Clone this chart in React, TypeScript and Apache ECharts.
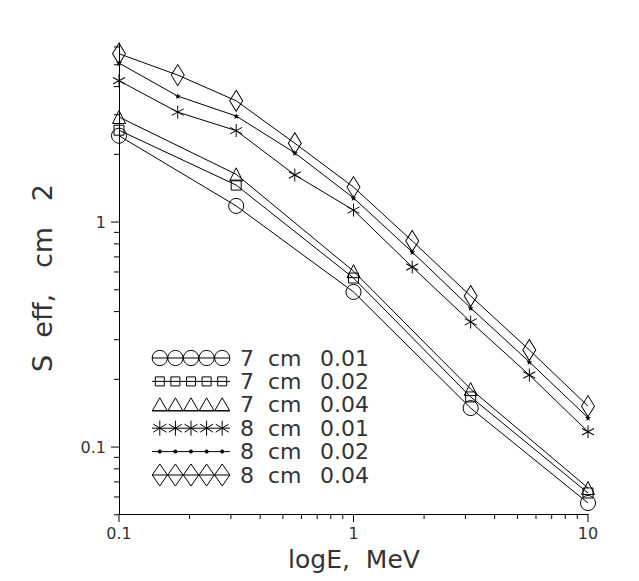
import React, { useEffect, useRef } from 'react';
import * as echarts from 'echarts';

// ---- data ----
const energies8 = [0.1, 0.178, 0.316, 0.562, 1, 1.78, 3.16, 5.62, 10];
const energies7 = [0.1, 0.316, 1, 3.16, 10];

const s7cm001 = [2.42, 1.18, 0.489, 0.149, 0.0564];
const s7cm002 = [2.56, 1.46, 0.564, 0.167, 0.0625];
const s7cm004 = [2.93, 1.63, 0.605, 0.181, 0.0658];
const s8cm001 = [4.25, 3.08, 2.55, 1.62, 1.13, 0.631, 0.36, 0.209, 0.117];
const s8cm002 = [5.09, 3.63, 2.96, 2.03, 1.28, 0.736, 0.415, 0.239, 0.135];
const s8cm004 = [5.6, 4.5, 3.46, 2.24, 1.43, 0.824, 0.469, 0.27, 0.152];

const diameters = ['7', '7', '7', '8', '8', '8'];
const thicknesses = ['0.01', '0.02', '0.04', '0.01', '0.02', '0.04'];

const xMajorTicks = [0.1, 1, 10];
const xMinorTicks = [0.2, 0.3, 0.4, 0.5, 0.6, 0.7, 0.8, 0.9, 2, 3, 4, 5, 6, 7, 8, 9];
const yMajorTicks = [0.1, 1];
const yMinorTicks = [0.05, 0.06, 0.07, 0.08, 0.09, 0.2, 0.3, 0.4, 0.5, 0.6, 0.7, 0.8, 0.9, 2, 3, 4, 5, 6];

const X_MIN = 0.1;
const X_MAX = 10;
const Y_MIN = 0.0504;
const Y_MAX = 6.25;

const xTitle = 'logE,  MeV';
const yTitle = 'S  eff,   cm   2';

const FONT = '"DejaVu Sans", "Liberation Sans", sans-serif';
const TEXT_COLOR = '#333';

const ASTERISK = 'path://M6 0L6 13M0 3.25L12 9.75M0 9.75L12 3.25';
const SMALL_STAR = 'path://M5 0L6.2 3.5L10 3.6L7 5.9L8.1 9.5L5 7.4L1.9 9.5L3 5.9L0 3.6L3.8 3.5Z';

function isPow10(v: number) {
  const l = Math.log10(v);
  return Math.abs(l - Math.round(l)) < 1e-6;
}
function fmt(v: number) {
  if (!isPow10(v)) return '';
  const e = Math.round(Math.log10(v));
  return e < 0 ? Math.pow(10, e).toFixed(-e) : String(Math.round(Math.pow(10, e)));
}

function legendGraphics() {
  const els: any[] = [];
  const top = 358;
  const step = 23.4;
  const x0 = 152;
  const x1 = 230;
  const kinds = ['circle', 'square', 'triangle', 'asterisk', 'dot', 'diamond'];
  const stroke = { fill: 'none', stroke: '#000', lineWidth: 1 };
  kinds.forEach((kind, i) => {
    const yc = top + i * step;
    const lineY = kind === 'triangle' ? yc + 6 : yc;
    els.push({ type: 'line', shape: { x1: x0, y1: lineY, x2: x1, y2: lineY }, style: { stroke: '#000', lineWidth: 1 }, silent: true });
    for (let k = 0; k < 5; k++) {
      const cx = x0 + 7.8 + k * 15.6;
      if (kind === 'circle') {
        els.push({ type: 'circle', shape: { cx, cy: yc, r: 7.6 }, style: stroke, silent: true });
      } else if (kind === 'square') {
        els.push({ type: 'rect', shape: { x: cx - 4.5, y: yc - 4.5, width: 9, height: 9 }, style: stroke, silent: true });
      } else if (kind === 'triangle') {
        els.push({ type: 'polygon', shape: { points: [[cx, yc - 7], [cx - 7.5, yc + 6], [cx + 7.5, yc + 6]] }, style: stroke, silent: true });
      } else if (kind === 'asterisk') {
        els.push({ type: 'line', shape: { x1: cx, y1: yc - 7.5, x2: cx, y2: yc + 7.5 }, style: { stroke: '#000', lineWidth: 1 }, silent: true });
        els.push({ type: 'line', shape: { x1: cx - 6.5, y1: yc - 4, x2: cx + 6.5, y2: yc + 4 }, style: { stroke: '#000', lineWidth: 1 }, silent: true });
        els.push({ type: 'line', shape: { x1: cx - 6.5, y1: yc + 4, x2: cx + 6.5, y2: yc - 4 }, style: { stroke: '#000', lineWidth: 1 }, silent: true });
      } else if (kind === 'dot') {
        els.push({ type: 'circle', shape: { cx, cy: yc, r: 2 }, style: { fill: '#000' }, silent: true });
      } else {
        els.push({ type: 'polygon', shape: { points: [[cx, yc - 11], [cx + 7.6, yc], [cx, yc + 11], [cx - 7.6, yc]] }, style: stroke, silent: true });
      }
    }
    const tstyle = { font: `22px ${FONT}`, fill: TEXT_COLOR, verticalAlign: 'middle', align: 'left' };
    els.push({ type: 'text', x: 240, y: yc, style: { ...tstyle, text: diameters[i] }, silent: true });
    els.push({ type: 'text', x: 268, y: yc, style: { ...tstyle, text: 'cm' }, silent: true });
    els.push({ type: 'text', x: 320, y: yc, style: { ...tstyle, text: thicknesses[i] }, silent: true });
  });
  return els;
}

export default function App() {
  const ref = useRef<HTMLDivElement>(null);
  useEffect(() => {
    document.body.style.margin = '0';
    if (!ref.current) return;
    const chart = echarts.init(ref.current, undefined, { renderer: 'svg' });

    const baseLine = (name: string, xs: number[], ys: number[], extra: any) => ({
      name,
      type: 'line',
      data: xs.map((x, i) => [x, ys[i]]),
      lineStyle: { color: '#000', width: 1 },
      itemStyle: { color: 'rgba(0,0,0,0)', borderColor: '#000', borderWidth: 1 },
      emphasis: { disabled: true },
      silent: true,
      z: 3,
      ...extra,
    });
    const names = diameters.map((d, i) => `${d} cm ${thicknesses[i]}`);

    const xTickData = [
      ...xMajorTicks.map((v) => [v, Y_MIN, 8]),
      ...xMinorTicks.map((v) => [v, Y_MIN, 5]),
    ];
    const yTickData = [
      ...yMajorTicks.map((v) => [X_MIN, v, 8]),
      ...yMinorTicks.map((v) => [X_MIN, v, 5]),
    ];

    const axisLabelBase = { fontSize: 16, fontFamily: FONT, color: TEXT_COLOR, formatter: (v: number) => fmt(v) };

    chart.setOption({
      animation: false,
      backgroundColor: '#fff',
      grid: { left: 119, right: 51, top: 43, bottom: 67, containLabel: false, outerBoundsMode: 'none' },
      xAxis: {
        type: 'log',
        logBase: 10,
        min: X_MIN,
        max: X_MAX,
        axisLine: { show: true, lineStyle: { color: '#000', width: 1 } },
        axisTick: { show: false },
        splitLine: { show: false },
        minorTick: { show: false },
        axisLabel: { ...axisLabelBase, margin: 11 },
      },
      yAxis: {
        type: 'log',
        logBase: 10,
        min: Y_MIN,
        max: Y_MAX,
        axisLine: { show: true, lineStyle: { color: '#000', width: 1 } },
        axisTick: { show: false },
        splitLine: { show: false },
        minorTick: { show: false },
        axisLabel: { ...axisLabelBase, margin: 13 },
      },
      graphic: [
        { type: 'text', x: 354, y: 559, style: { text: xTitle, font: `25px ${FONT}`, fill: TEXT_COLOR, align: 'center', verticalAlign: 'middle' }, silent: true },
        { type: 'text', x: 42, y: 278, rotation: Math.PI / 2, style: { text: yTitle, font: `27px ${FONT}`, fill: TEXT_COLOR, align: 'center', verticalAlign: 'middle' }, silent: true },
        ...legendGraphics(),
      ],
      series: [
        baseLine(names[0], energies7, s7cm001, { symbol: 'circle', symbolSize: 15 }),
        baseLine(names[1], energies7, s7cm002, { symbol: 'rect', symbolSize: 10 }),
        baseLine(names[2], energies7, s7cm004, { symbol: 'triangle', symbolSize: [13, 13] }),
        baseLine(names[3], energies8, s8cm001, { symbol: ASTERISK, symbolSize: [12, 13] }),
        baseLine(names[4], energies8, s8cm002, { symbol: SMALL_STAR, symbolSize: 6, itemStyle: { color: '#000', borderWidth: 0 } }),
        baseLine(names[5], energies8, s8cm004, { symbol: 'diamond', symbolSize: [13, 21] }),
        {
          type: 'custom',
          coordinateSystem: 'cartesian2d',
          silent: true,
          clip: false,
          data: xTickData,
          renderItem: (params: any, api: any) => {
            const p = api.coord([api.value(0), api.value(1)]);
            const len = api.value(2);
            return { type: 'line', shape: { x1: p[0], y1: p[1], x2: p[0], y2: p[1] + len }, style: { stroke: '#000', lineWidth: 1 } };
          },
        },
        {
          type: 'custom',
          coordinateSystem: 'cartesian2d',
          silent: true,
          clip: false,
          data: yTickData,
          renderItem: (params: any, api: any) => {
            const p = api.coord([api.value(0), api.value(1)]);
            const len = api.value(2);
            return { type: 'line', shape: { x1: p[0] - len, y1: p[1], x2: p[0], y2: p[1] }, style: { stroke: '#000', lineWidth: 1 } };
          },
        },
      ],
    });
    return () => chart.dispose();
  }, []);
  return <div ref={ref} style={{ width: 639, height: 581 }} />;
}
